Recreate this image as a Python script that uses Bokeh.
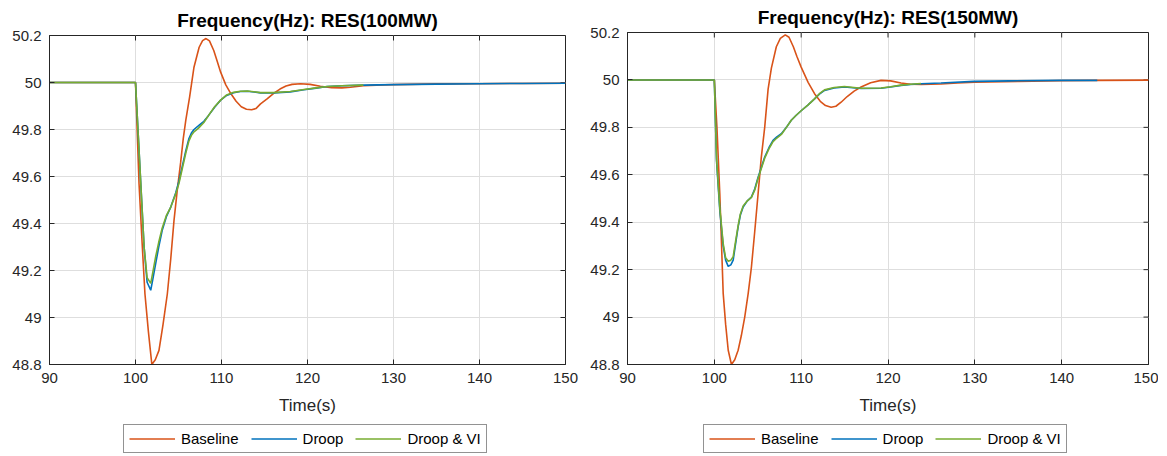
import math
from bokeh.plotting import figure
from bokeh.layouts import row, column
from bokeh.models import Range1d, FixedTicker, Legend, LegendItem
from bokeh.embed import file_html
from bokeh.resources import INLINE

# ---------------- data ----------------
x_ticks = [90, 100, 110, 120, 130, 140, 150]
y_ticks = [48.8, 49.0, 49.2, 49.4, 49.6, 49.8, 50.0, 50.2]
y_tick_labels = ["48.8", "49", "49.2", "49.4", "49.6", "49.8", "50", "50.2"]
series_names = ["Baseline", "Droop", "Droop & VI"]
titles = ["Frequency(Hz): RES(100MW)", "Frequency(Hz): RES(150MW)"]

# Left panel: RES(100MW)
t_L_base = [90, 100, 100.2, 100.41, 100.75, 101.1, 101.5, 101.9, 102.3, 102.73, 103.2, 103.7, 104.1,
            104.47, 104.85, 105.25, 105.55, 105.85, 106.3, 106.8, 107.4, 107.8, 108.2, 108.6, 109.1,
            109.5, 109.9, 110.5, 111.1, 111.7, 112.3, 112.9, 113.5, 114.0, 114.54, 115.3, 116.0,
            116.8, 117.5, 118.2, 119.2, 120.3, 121.5, 122.8, 124.0, 125.0, 126.5, 128, 130, 135,
            140, 145, 150]
f_L_base = [50, 50, 49.79, 49.57, 49.33, 49.10, 48.94, 48.80, 48.82, 48.86, 48.97, 49.10, 49.25,
            49.41, 49.54, 49.66, 49.76, 49.84, 49.94, 50.065, 50.15, 50.178, 50.187, 50.177, 50.136,
            50.09, 50.044, 49.99, 49.952, 49.92, 49.897, 49.886, 49.884, 49.889, 49.909, 49.93,
            49.952, 49.972, 49.985, 49.992, 49.995, 49.992, 49.984, 49.978, 49.977, 49.98, 49.986,
            49.989, 49.991, 49.994, 49.995, 49.996, 49.997]
t_L_droop = [90, 100, 100.3, 100.6, 101.0, 101.35, 101.77, 102.0, 102.35, 102.7, 103.1, 103.6, 104.1,
             104.67, 105.05, 105.45, 105.85, 106.2, 106.5, 106.8, 107.3, 107.95, 108.5, 109.2, 109.9,
             110.6, 111.4, 112.2, 113.0, 114.54, 116.1, 118.0, 119.6, 121.0, 122.3, 124.0, 126.5,
             130, 135, 140, 145, 150]
f_L_droop = [50, 50, 49.79, 49.58, 49.30, 49.15, 49.116, 49.16, 49.23, 49.30, 49.37, 49.43, 49.47,
             49.53, 49.58, 49.645, 49.71, 49.76, 49.785, 49.80, 49.815, 49.835, 49.86, 49.895, 49.925,
             49.945, 49.956, 49.962, 49.963, 49.956, 49.956, 49.96, 49.969, 49.976, 49.983, 49.986,
             49.989, 49.991, 49.993, 49.995, 49.996, 49.997]
t_L_vi = t_L_droop[:37]
f_L_vi = [50, 50, 49.79, 49.58, 49.30, 49.17, 49.145, 49.19, 49.26, 49.32, 49.38, 49.435, 49.47,
          49.525, 49.57, 49.635, 49.70, 49.75, 49.775, 49.79, 49.805, 49.83, 49.86, 49.897, 49.925,
          49.947, 49.958, 49.963, 49.964, 49.957, 49.957, 49.962, 49.97, 49.977, 49.983, 49.986,
          49.989]

# Right panel: RES(150MW)
t_R_base = [90, 100, 100.3, 100.63, 101.02, 101.3, 101.6, 101.97, 102.35, 102.74, 103.1, 103.5,
            103.9, 104.27, 104.65, 105.04, 105.4, 105.8, 106.19, 106.57, 107.14, 107.6, 108.17,
            108.6, 109.1, 109.5, 110.0, 110.8, 111.54, 112.2, 112.8, 113.45, 114.0, 114.6, 115.3,
            116.1, 116.9, 118.0, 119.2, 120.3, 121.5, 122.6, 123.8, 126.1, 128, 130, 135, 140, 144, 150]
f_R_base = [50, 50, 49.80, 49.52, 49.10, 48.97, 48.86, 48.80, 48.82, 48.86, 48.92, 49.0, 49.10,
            49.21, 49.36, 49.52, 49.67, 49.80, 49.96, 50.05, 50.14, 50.175, 50.19, 50.18, 50.14,
            50.10, 50.054, 49.99, 49.942, 49.91, 49.892, 49.885, 49.889, 49.906, 49.93, 49.953,
            49.97, 49.988, 49.998, 49.996, 49.987, 49.982, 49.981, 49.983, 49.987, 49.99, 49.994,
            49.997, 49.998, 49.999]
t_R_droop = [90, 100, 100.25, 100.63, 101.02, 101.3, 101.6, 101.9, 102.17, 102.45, 102.74, 103.0,
             103.32, 103.8, 104.27, 104.65, 105.04, 105.4, 105.8, 106.3, 106.76, 107.2, 107.72, 108.3,
             108.86, 109.4, 110.0, 110.8, 111.54, 112.1, 112.69, 113.8, 114.98, 116.9, 119.2, 120.3,
             121.5, 122.6, 123.8, 126.1, 129.9, 134, 139.9, 144.1]
f_R_droop = [50, 50, 49.66, 49.45, 49.30, 49.24, 49.214, 49.22, 49.24, 49.31, 49.38, 49.43, 49.464,
             49.49, 49.506, 49.54, 49.59, 49.63, 49.675, 49.715, 49.745, 49.76, 49.773, 49.80, 49.83,
             49.85, 49.87, 49.895, 49.92, 49.94, 49.956, 49.966, 49.97, 49.964, 49.965, 49.97, 49.977,
             49.981, 49.984, 49.987, 49.994, 49.996, 49.998, 49.998]
t_R_vi = t_R_droop[:39]
f_R_vi = [50, 50, 49.67, 49.46, 49.31, 49.25, 49.235, 49.24, 49.255, 49.32, 49.385, 49.435, 49.468,
          49.49, 49.505, 49.535, 49.585, 49.625, 49.67, 49.71, 49.74, 49.755, 49.77, 49.80, 49.83,
          49.85, 49.87, 49.895, 49.92, 49.942, 49.958, 49.968, 49.972, 49.965, 49.966, 49.971,
          49.978, 49.982, 49.985]

colors = ["#D95319", "#0072BD", "#77AC30"]
FONT = "Liberation Sans"
AX = "#262626"
GRID = "#dedede"
LW = 1.6


def style_axis(ax, ticks):
    ax.ticker = FixedTicker(ticks=ticks)
    ax.major_tick_in = 5
    ax.major_tick_out = 0
    ax.minor_tick_line_color = None
    ax.axis_line_color = AX
    ax.major_tick_line_color = AX
    ax.axis_line_width = 1
    ax.major_label_text_font = FONT
    ax.major_label_text_color = AX
    ax.major_label_text_font_size = "15px"
    ax.major_label_standoff = 8


def panel(title, width, ml, mr, mt, series):
    p = figure(width=width, height=420, x_range=Range1d(90, 150), y_range=Range1d(48.8, 50.2),
               output_backend="svg", toolbar_location=None,
               min_border_left=ml, min_border_right=mr, min_border_top=mt,
               min_border_bottom=420 - 364)
    p.background_fill_color = "white"
    p.border_fill_color = "white"
    p.outline_line_color = AX

    p.title.text = title
    p.title.align = "center"
    p.title.text_font = FONT
    p.title.text_font_size = "19px"
    p.title.text_font_style = "bold"
    p.title.text_color = "#000000"
    p.title.standoff = 9

    style_axis(p.xaxis[0], x_ticks)
    style_axis(p.yaxis[0], y_ticks)
    p.yaxis[0].major_label_overrides = dict(zip(y_ticks, y_tick_labels))
    p.xaxis[0].axis_label = "Time(s)"
    p.xaxis[0].axis_label_text_font = FONT
    p.xaxis[0].axis_label_text_font_size = "17px"
    p.xaxis[0].axis_label_text_font_style = "normal"
    p.xaxis[0].axis_label_text_color = AX
    p.xaxis[0].axis_label_standoff = 10

    p.xgrid.ticker = FixedTicker(ticks=x_ticks)
    p.ygrid.ticker = FixedTicker(ticks=y_ticks)
    p.grid.grid_line_color = GRID
    p.grid.grid_line_width = 1

    # inward tick marks on the top and right edges of the box
    p.ray(x=x_ticks, y=[y_ticks[-1]] * len(x_ticks), length=5, length_units="screen",
          angle=-math.pi / 2, line_color=AX, line_width=1)
    p.ray(x=[x_ticks[-1]] * len(y_ticks), y=y_ticks, length=5, length_units="screen",
          angle=math.pi, line_color=AX, line_width=1)

    for (t, f), c in zip(series, colors):
        p.line(t, f, line_color=c, line_width=LW)
    return p


def legend_panel(width, x0, series):
    q = figure(width=width, height=36, x_range=Range1d(0, 1), y_range=Range1d(0, 1),
               output_backend="svg", toolbar_location=None,
               x_axis_location=None, y_axis_location=None, min_border=0)
    q.grid.visible = False
    q.outline_line_color = None
    q.background_fill_color = "white"
    q.border_fill_color = "white"
    items = []
    for (t, f), name, c in zip(series, series_names, colors):
        r = q.line(t, f, line_color=c, line_width=LW, visible=False)
        items.append(LegendItem(label=name, renderers=[r]))
    leg = Legend(items=items, orientation="horizontal", location=(x0, 3))
    leg.click_policy = "none"
    leg.border_line_color = AX
    leg.border_line_width = 1
    leg.background_fill_color = "white"
    leg.background_fill_alpha = 1
    leg.padding = 5
    leg.spacing = 12
    leg.margin = 0
    leg.glyph_width = 46
    leg.glyph_height = 15
    leg.label_height = 15
    leg.label_standoff = 6
    leg.label_text_font = FONT
    leg.label_text_font_size = "15px"
    leg.label_text_color = "#000000"
    q.add_layout(leg, "center")
    return q


left_series = [(t_L_base, f_L_base), (t_L_droop, f_L_droop), (t_L_vi, f_L_vi)]
right_series = [(t_R_base, f_R_base), (t_R_droop, f_R_droop), (t_R_vi, f_R_vi)]

p1 = panel(titles[0], 587, 49, 22, 35, left_series)
p2 = panel(titles[1], 571, 39, 10, 32, right_series)
# legend strips share the frame alignment of the plot above them
l1 = legend_panel(587, 74, left_series)
l2 = legend_panel(571, 76, right_series)

layout = row(column(p1, l1, spacing=0), column(p2, l2, spacing=0), spacing=0)
open("out.html", "w").write(file_html(layout, INLINE))
